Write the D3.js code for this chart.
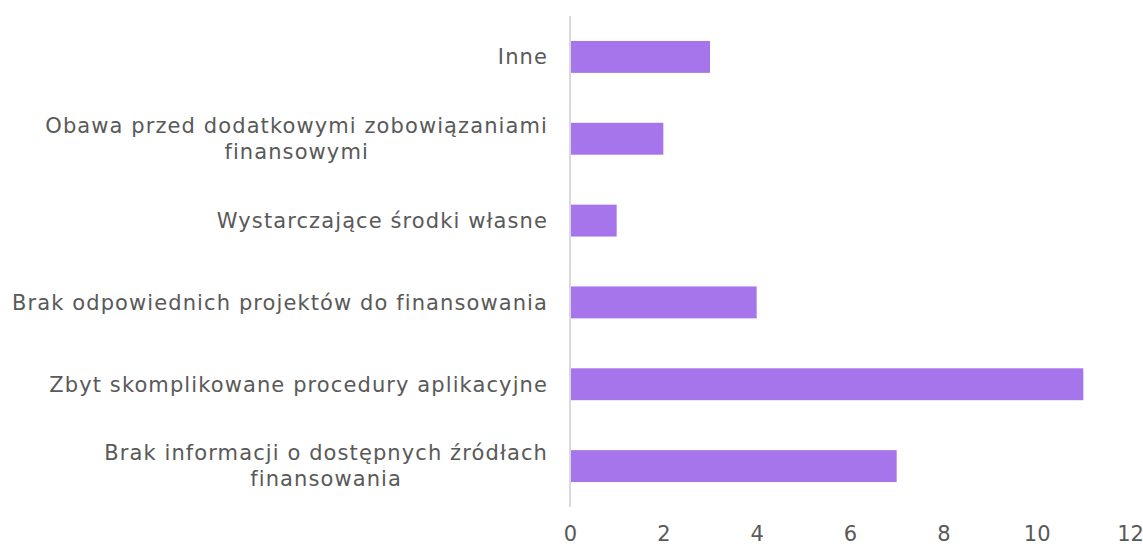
<!DOCTYPE html>
<meta charset="utf-8">
<script src="https://d3js.org/d3.v7.min.js"></script>
<style>
body { margin: 0; background: #fff; }
</style>
<div id="chart"></div>
<script>
// categories from top to bottom, "\n" marks a line break in the label
var categories = [
    "Inne",
    "Obawa przed dodatkowymi zobowiązaniami\nfinansowymi",
    "Wystarczające środki własne",
    "Brak odpowiednich projektów do finansowania",
    "Zbyt skomplikowane procedury aplikacyjne",
    "Brak informacji o dostępnych źródłach\nfinansowania"
];
var values = [3, 2, 1, 4, 11, 7];
var xTicks = [0, 2, 4, 6, 8, 10, 12];

var W = 1143, H = 546;
var margin = { top: 16, right: 13, bottom: 39, left: 570 };
var width = W - margin.left - margin.right,
    height = H - margin.top - margin.bottom;
var font = "'DejaVu Sans', sans-serif";

var svg = d3.select("#chart")
    .append("svg")
    .attr("width", W)
    .attr("height", H)
    .append("g")
    .attr("transform", "translate(" + margin.left + "," + margin.top + ")");

var x = d3.scaleLinear().domain([0, 12]).range([0, width]);
var y = d3.scaleBand().domain(categories).range([0, height]).paddingInner(0.61).paddingOuter(0.305);

svg.selectAll("rect")
    .data(values)
    .enter().append("rect")
    .attr("x", x(0))
    .attr("y", function(d, i) { return y(categories[i]); })
    .attr("width", function(d) { return x(d) - x(0); })
    .attr("height", y.bandwidth())
    .attr("fill", "#a675ec");

// x axis: tick labels only
var xAxis = svg.append("g")
    .attr("transform", "translate(0," + height + ")")
    .call(d3.axisBottom(x).tickValues(xTicks).tickSize(0).tickPadding(19));
xAxis.select(".domain").remove();
xAxis.selectAll("text")
    .attr("fill", "#595959")
    .style("font-family", font)
    .style("font-size", "21px");

// y axis line
svg.append("line")
    .attr("x1", 0).attr("x2", 0)
    .attr("y1", 0).attr("y2", height)
    .attr("stroke", "#d9d9d9")
    .attr("stroke-width", 2);

// category labels, multi-line centered in their block
var lineH = 26;
categories.forEach(function(c) {
    var lines = c.split("\n");
    var cy = y(c) + y.bandwidth() / 2;
    var t = svg.append("text")
        .attr("fill", "#595959")
        .style("font-family", font)
        .style("font-size", "21px")
        .style("letter-spacing", "1.1px");
    var spans = lines.map(function(l, j) {
        return t.append("tspan")
            .attr("y", cy + (j - (lines.length - 1) / 2) * lineH)
            .attr("dy", "0.35em")
            .text(l);
    });
    var widths = spans.map(function(s) { return s.node().getComputedTextLength(); });
    var maxW = d3.max(widths);
    spans.forEach(function(s, j) {
        s.attr("x", -22 - maxW / 2).attr("text-anchor", "middle");
    });
});
</script>
